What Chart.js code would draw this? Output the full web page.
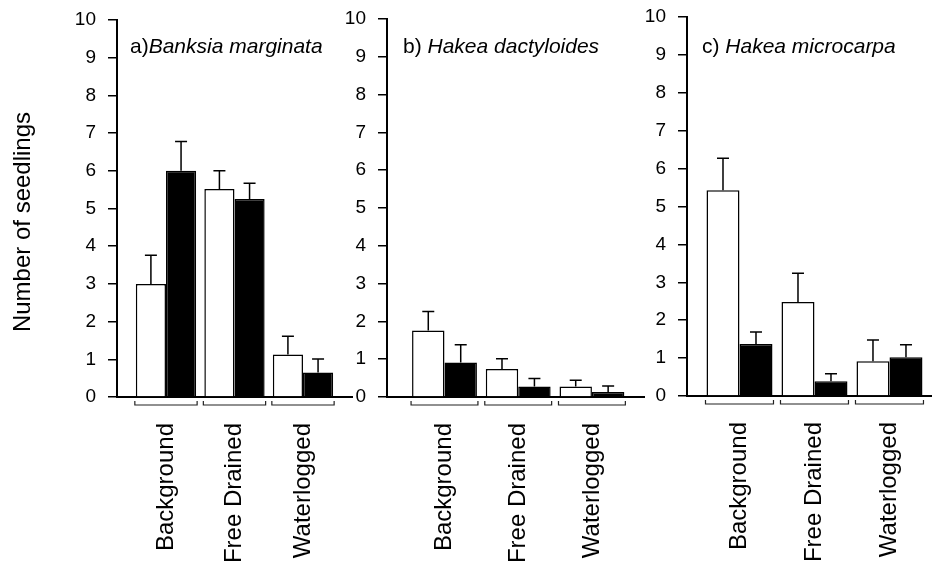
<!DOCTYPE html>
<html>
<head>
<meta charset="utf-8">
<script src="https://cdn.jsdelivr.net/npm/chart.js@4.4.0/dist/chart.umd.min.js"></script>
<style>
  body { margin: 0; background: #fff; }
  #wrap { position: relative; width: 932px; height: 564px; overflow: hidden; }
  canvas { position: absolute; top: 0; }
</style>
</head>
<body>
<div id="wrap">
  <canvas id="chartA" style="left:0px" width="353" height="564"></canvas>
  <canvas id="chartB" style="left:330px" width="315" height="564"></canvas>
  <canvas id="chartC" style="left:630px" width="302" height="564"></canvas>
</div>
<script>
// treatments on the x axis
const categories = ['Background', 'Free Drained', 'Waterlogged'];
const yTicks = [0, 1, 2, 3, 4, 5, 6, 7, 8, 9, 10];
const yTitle = 'Number of seedlings';

// a) Banksia marginata
const bmOpen = [3.0, 5.52, 1.13];
const bmOpenSe = [0.76, 0.48, 0.48];
const bmFilled = [6.0, 5.25, 0.65];
const bmFilledSe = [0.78, 0.42, 0.36];

// b) Hakea dactyloides
const hdOpen = [1.76, 0.74, 0.28];
const hdOpenSe = [0.5, 0.27, 0.16];
const hdFilled = [0.91, 0.28, 0.13];
const hdFilledSe = [0.47, 0.21, 0.16];

// c) Hakea microcarpa
const hmOpen = [5.43, 2.48, 0.92];
const hmOpenSe = [0.84, 0.76, 0.56];
const hmFilled = [1.37, 0.39, 1.02];
const hmFilledSe = [0.32, 0.2, 0.33];

const FONT = "'Liberation Sans', Arial, Helvetica, sans-serif";

// error bars on top of each bar
const errorBars = {
  id: 'errorBars',
  afterDatasetsDraw(chart) {
    const ctx = chart.ctx;
    const y = chart.scales.y;
    ctx.save();
    ctx.strokeStyle = '#000';
    ctx.lineWidth = 1.5;
    chart.data.datasets.forEach((ds, i) => {
      chart.getDatasetMeta(i).data.forEach((bar, j) => {
        const top = y.getPixelForValue(ds.data[j].y + ds.errors[j]);
        ctx.beginPath();
        ctx.moveTo(bar.x, bar.y);
        ctx.lineTo(bar.x, top);
        ctx.moveTo(bar.x - 6, top);
        ctx.lineTo(bar.x + 6, top);
        ctx.stroke();
      });
    });
    ctx.restore();
  }
};

// bracket under each treatment pair
const brackets = {
  id: 'brackets',
  afterDraw(chart) {
    const ctx = chart.ctx;
    const m0 = chart.getDatasetMeta(0).data;
    const m1 = chart.getDatasetMeta(1).data;
    const yb = chart.chartArea.bottom + 8;
    ctx.save();
    ctx.strokeStyle = '#222';
    ctx.lineWidth = 1.2;
    m0.forEach((b, j) => {
      const l = b.x - b.width / 2 - 1;
      const r = m1[j].x + m1[j].width / 2 + 1;
      ctx.beginPath();
      ctx.moveTo(l, yb - 4);
      ctx.lineTo(l, yb);
      ctx.lineTo(r, yb);
      ctx.lineTo(r, yb - 4);
      ctx.stroke();
    });
    ctx.restore();
  }
};

// panel label: plain prefix + italic species name
const panelTitle = {
  id: 'panelTitle',
  afterDraw(chart, args, opts) {
    const ctx = chart.ctx;
    const x = chart.chartArea.left + opts.dx;
    const yb = 53;
    ctx.save();
    ctx.fillStyle = '#000';
    ctx.textBaseline = 'alphabetic';
    ctx.font = '21px ' + FONT;
    ctx.fillText(opts.prefix, x, yb);
    const w = ctx.measureText(opts.prefix).width;
    ctx.font = 'italic 21px ' + FONT;
    ctx.fillText(opts.name, x + w, yb);
    if (opts.yTitle) {
      ctx.font = '24px ' + FONT;
      ctx.translate(23, 222);
      ctx.rotate(-Math.PI / 2);
      ctx.textAlign = 'center';
      ctx.textBaseline = 'middle';
      ctx.fillText(opts.yTitle, 0, 0);
    }
    ctx.restore();
  }
};

function makeChart(id, open, openSe, filled, filledSe, prefix, name, xMin, xMax, yWidth, top, xHeight, dx, withTitle) {
  const toPts = arr => arr.map((v, i) => ({ x: i + 1, y: v }));
  return new Chart(document.getElementById(id), {
    type: 'bar',
    data: {
      datasets: [{
        data: toPts(open),
        errors: openSe,
        backgroundColor: '#fff',
        borderColor: '#000',
        borderWidth: 1.5,
        borderSkipped: 'bottom'
      }, {
        data: toPts(filled),
        errors: filledSe,
        backgroundColor: '#000',
        borderColor: '#000',
        borderWidth: 1.5,
        borderSkipped: 'bottom'
      }]
    },
    options: {
      responsive: false,
      animation: false,
      devicePixelRatio: 1,
      categoryPercentage: 0.88,
      barPercentage: 1.0,
      layout: { padding: { top: top, left: 0, right: 0, bottom: 0 } },
      plugins: {
        legend: { display: false },
        tooltip: { enabled: false },
        panelTitle: { prefix: prefix, name: name, dx: dx, yTitle: withTitle ? yTitle : null }
      },
      scales: {
        x: {
          type: 'linear',
          offset: false,
          min: xMin,
          max: xMax,
          afterBuildTicks: s => { s.ticks = categories.map((c, i) => ({ value: i + 1 })); },
          afterFit: s => { s.height = xHeight; s.paddingLeft = 0; s.paddingRight = 0; },
          grid: { display: false, drawTicks: false },
          border: { display: true, color: '#000', width: 2 },
          ticks: {
            callback: (v, i) => categories[i],
            autoSkip: false,
            minRotation: 90,
            maxRotation: 90,
            padding: 26,
            color: '#000',
            font: { family: FONT, size: 24 }
          }
        },
        y: {
          min: 0,
          max: 10,
          afterBuildTicks: s => { s.ticks = yTicks.map(v => ({ value: v })); },
          afterFit: s => { s.width = yWidth; s.paddingTop = 0; s.paddingBottom = 0; },
          grid: { drawOnChartArea: false, drawTicks: true, tickLength: 9, color: '#000', lineWidth: 1.5 },
          border: { display: true, color: '#000', width: 2 },
          ticks: {
            padding: 12,
            color: '#000',
            font: { family: FONT, size: 19 }
          }
        }
      }
    },
    plugins: [errorBars, brackets, panelTitle]
  });
}

makeChart('chartA', bmOpen, bmOpenSe, bmFilled, bmFilledSe, 'a)', 'Banksia marginata', 0.285, 3.73, 117, 20, 167, 13, true);
makeChart('chartB', hdOpen, hdOpenSe, hdFilled, hdFilledSe, 'b) ', 'Hakea dactyloides', 0.22, 3.72, 57, 19, 167, 16, false);
makeChart('chartC', hmOpen, hmOpenSe, hmFilled, hmFilledSe, 'c) ', 'Hakea microcarpa', 0.3, 3.567, 57, 17, 168, 15, false);
</script>
</body>
</html>
